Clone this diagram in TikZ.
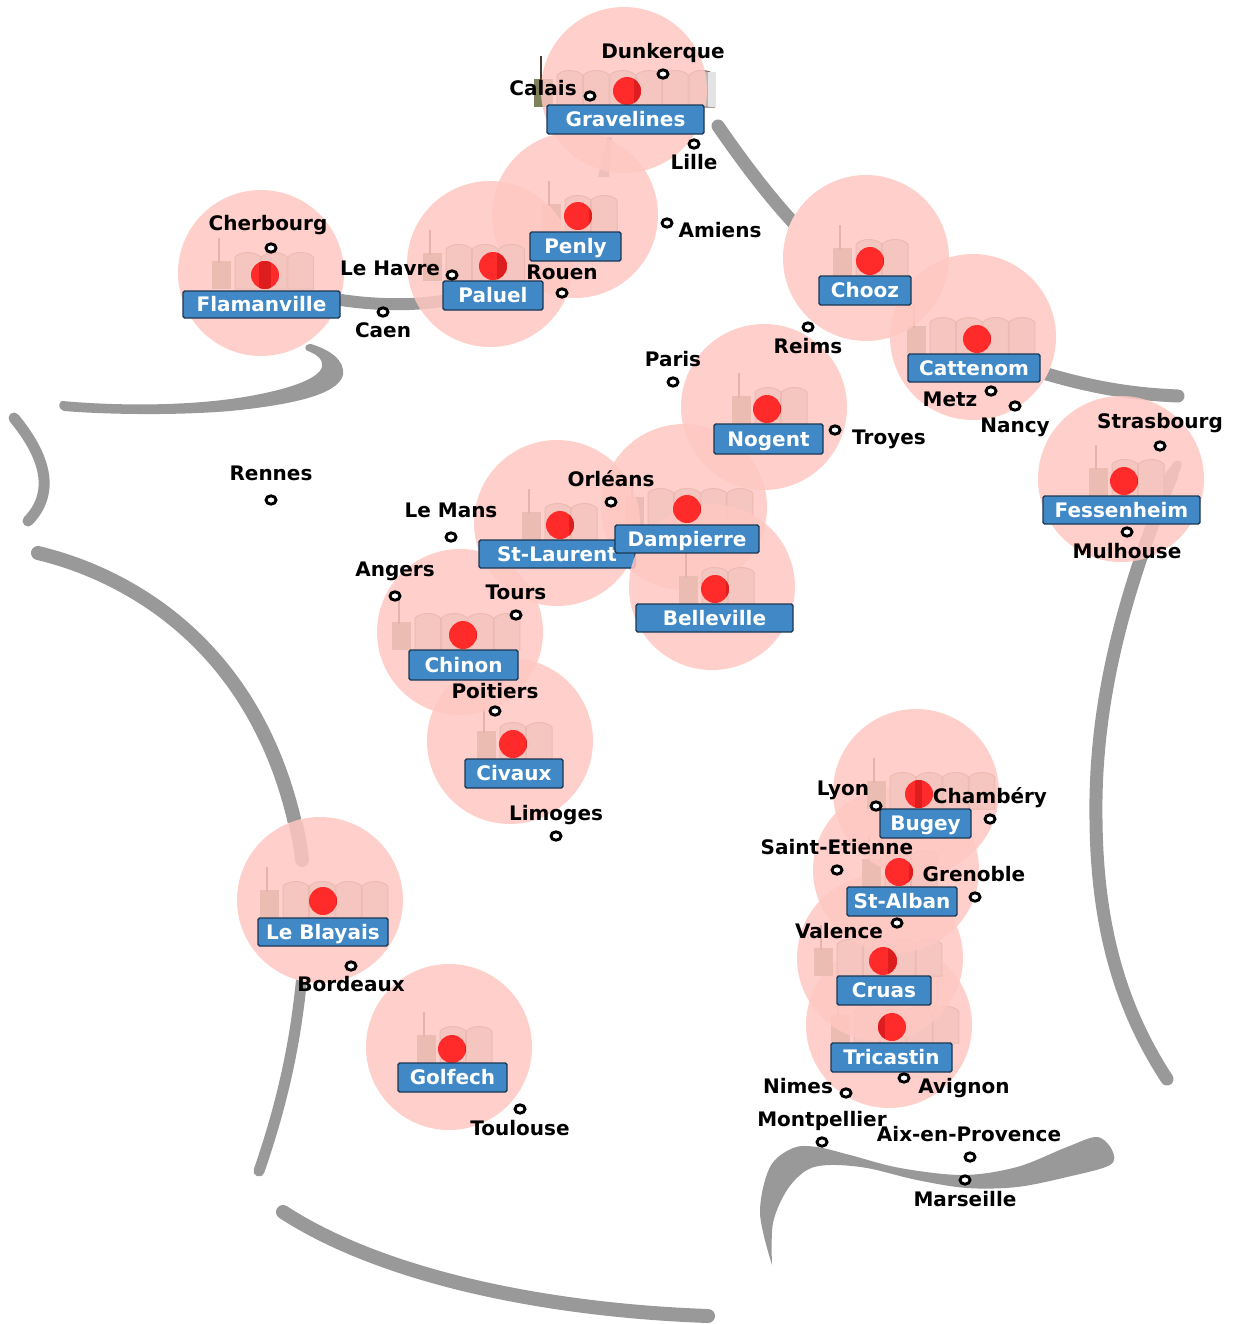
\documentclass[tikz,border=0pt]{standalone}
\usepackage{fontspec}
\setmainfont{DejaVu Sans}[BoldFont={DejaVu Sans Bold}]
\usetikzlibrary{shapes.geometric}
\definecolor{coast}{RGB}{153,153,153}
\definecolor{halo}{RGB}{255,200,194}
\definecolor{towerc}{RGB}{190,185,175}
\definecolor{towerl}{RGB}{120,110,100}
\definecolor{blockc}{RGB}{125,130,90}
\definecolor{stackc}{RGB}{70,60,50}
\definecolor{labelc}{RGB}{64,137,198}
\definecolor{labeld}{RGB}{28,56,84}
\definecolor{corec}{RGB}{255,42,42}
\definecolor{cored}{RGB}{222,30,30}
\tikzset{
  coastline/.style={draw=coast,line cap=round,line join=round,line width=6.5pt},
  coastfill/.style={fill=coast,draw=none},
  haloc/.style={fill=halo,fill opacity=.85,draw=none},
  tower/.style={fill=towerc,draw=towerl,line width=.5pt},
  block/.style={fill=blockc,draw=none},
  stackl/.style={draw=stackc,line width=1.1pt},
  core/.style={fill=corec,draw=none},
  plantlabel/.style={fill=labelc,draw=labeld,line width=.7pt,rounded corners=.8pt,text=white,
    font=\fontsize{10}{10}\selectfont\bfseries,inner sep=0pt,text height=7.3pt,text depth=0pt,align=center},
  townname/.style={text=black,font=\fontsize{10}{10}\selectfont\bfseries,inner sep=0pt,text height=7.3pt,text depth=0pt},
  townmark/.style={ellipse,draw=black,fill=white,line width=1.45pt,inner sep=0pt,minimum width=5pt,minimum height=4.2pt},
}
\newcommand{\plantart}[5]{%
  \fill[block] ({#3-23},{#4}) rectangle ({#3-4},{#4-28});
  \draw[stackl] ({#3-16},{#4-26}) -- ({#3-16},{#4-51});
  \foreach \tw in {1,...,#5}{%
    \pgfmathsetmacro{\txa}{#3+(\tw-1)*26.4}%
    \pgfmathsetmacro{\txb}{\txa+25.6}%
    \draw[tower] (\txa,{#4}) -- (\txa,{#4-32}) .. controls ({\txa+6},{#4-38}) and ({\txb-6},{#4-38}) .. (\txb,{#4-32}) -- (\txb,{#4}) -- cycle;
  }
  \fill[haloc] (#1,#2) circle (41.5pt);
}
% core: centre, then the offsets of the darker band across it
\newcommand{\plantcore}[4]{%
  \fill[core] (#1,#2) circle (7pt);
  \begin{scope}
    \clip (#1,#2) circle (7pt);
    \fill[cored] ({#1+#3},{#2-15}) rectangle ({#1+#4},{#2+15});
  \end{scope}
}
\newcommand{\plantname}[6]{%
  \node[plantlabel,minimum width={(#4-#3)*.5pt},minimum height={(#6-#5)*.5pt}] (#2) at ({(#3+#4)/2},{(#5+#6)/2}) {#1};
}
\newcommand{\town}[6]{%
  \node[townmark] (m#1) at (#5,#6) {};
  \node[townname] (t#1) at (#3,#4) {#2};
}
\begin{document}
\begin{tikzpicture}[x=.5pt,y=-.5pt]
\useasboundingbox (0,0) rectangle (1234,1324);
\fill[white] (0,0) rectangle (1234,1324);
% coast
\draw[coastline] (718,126) .. controls (745,165) and (775,205) .. (808,238);
\draw[coastline] (1040,372) .. controls (1090,387) and (1130,394) .. (1178,396);
\draw[coastline] (1172,475) .. controls (1125,590) and (1094,700) .. (1096,820) .. controls (1097,930) and (1122,1010) .. (1167,1079);
\fill[coastfill] (1174,462) .. controls (1180,458) and (1184,462) .. (1180,470) -- (1165,500) -- (1150,495) -- cycle;
\draw[coastline,line width=6pt] (335,299) .. controls (370,305) and (410,306) .. (442,301);
\fill[coastfill] (62,401) .. controls (130,407) and (200,405) .. (250,396) .. controls (300,387) and (325,375) .. (322,363) .. controls (320,355) and (312,353) .. (306,350) .. controls (304,346) and (307,344) .. (311,344) .. controls (330,350) and (345,360) .. (343,375) .. controls (338,395) and (290,405) .. (230,411) .. controls (170,416) and (100,414) .. (64,411) .. controls (58,409) and (58,403) .. (62,401) -- cycle;
\draw[coastline,line width=5.5pt] (14,418) .. controls (42,452) and (58,490) .. (28,521);
\draw[coastline,line width=7pt] (38,553) .. controls (130,575) and (270,650) .. (302,860);
\draw[coastline,line width=5.5pt] (302,975) .. controls (295,1050) and (280,1110) .. (259,1171);
\draw[coastline,line width=7pt] (283,1212) .. controls (380,1275) and (540,1310) .. (708,1316);
\fill[coastfill] (607,137) -- (612,137) -- (609,177) -- (598,177) -- cycle;
\fill[coastfill] plot[smooth,tension=.55] coordinates {(772,1265) (760,1213) (770,1167) (793,1148) (817,1147) (850,1155) (900,1168) (963,1175) (1017,1167) (1067,1147) (1097,1137) (1112,1150) (1110,1165) (1067,1177) (1017,1187) (967,1188) (917,1180) (867,1168) (830,1165) (807,1170) (787,1190) (773,1223) (772,1265)};
% the coast does not show through these discs
\fill[white] (866,258) circle (41.5pt);
\fill[white] (973,337) circle (41.5pt);
\fill[white] (320,900) circle (41.5pt);
% plant art
\plantart{889}{1025}{854}{1043}{4}
\plantart{880}{958}{837}{976}{4}
\plantart{896}{870}{885}{887}{2}
\plantart{916}{792}{890}{809}{4}
\plantart{449}{1047}{440}{1063}{2}
\draw[coastline,line width=7pt] (296,825) .. controls (299,838) and (301,849) .. (302,860);
\plantart{320}{900}{283}{918}{4}
\plantart{684}{507}{648}{525}{4}
\plantart{764}{407}{755}{424}{2}
\plantart{510}{741}{500}{759}{2}
\plantart{460}{632}{415}{650}{4}
\plantart{557}{523}{545}{540}{2}
\plantart{973}{337}{930}{354}{4}
\plantart{866}{258}{856}{276}{2}
\plantart{1121}{479}{1112}{496}{2}
\plantart{575}{215}{565}{232}{2}
\plantart{490}{264}{446}{281}{3}
\plantart{261}{273}{235}{289}{3}
\plantart{624}{90}{557}{107}{6}
\fill[gray!22] (707.5,72) rectangle (715.5,107);
% labels and cores
\plantcore{560}{525}{9}{15}\plantname{St-Laurent}{stlaurent}{479}{635}{540}{568}
\plantart{712}{587}{702}{604}{2}
\plantcore{715}{589}{11}{15}\plantname{Belleville}{belleville}{636}{793}{604}{632}
\plantcore{892}{1027}{-15}{-7}\plantname{Tricastin}{tricastin}{831}{952}{1043}{1072}
\plantcore{883}{961}{5}{15}\plantname{Cruas}{cruas}{837}{931}{976}{1005}
\plantcore{899}{872}{10}{15}\plantname{St-Alban}{stalban}{847}{957}{887}{916}
\plantcore{919}{794}{-4}{3}\plantname{Bugey}{bugey}{880}{971}{809}{838}
\plantcore{452}{1049}{13}{15}\plantname{Golfech}{golfech}{398}{507}{1063}{1092}
\plantcore{323}{901}{13}{15}\plantname{Le Blayais}{blayais}{258}{388}{918}{946}
\plantcore{767}{409}{13}{15}\plantname{Nogent}{nogent}{714}{823}{424}{454}
\plantcore{513}{744}{13}{15}\plantname{Civaux}{civaux}{465}{563}{759}{788}
\plantcore{463}{635}{13}{15}\plantname{Chinon}{chinon}{409}{518}{650}{680}
\plantcore{687}{509}{13}{15}\plantname{Dampierre}{dampierre}{615}{759}{525}{553}
\plantcore{977}{339}{13}{15}\plantname{Cattenom}{cattenom}{908}{1040}{354}{382}
\plantcore{870}{261}{13}{15}\plantname{Chooz}{chooz}{819}{911}{276}{305}
\plantcore{1124}{481}{13}{15}\plantname{Fessenheim}{fessenheim}{1043}{1200}{496}{524}
\plantcore{578}{216}{11}{15}\plantname{Penly}{penly}{530}{621}{232}{261}
\plantcore{493}{266}{4}{15}\plantname{Paluel}{paluel}{443}{543}{281}{310}
\plantcore{265}{275}{-6}{6}\plantname{Flamanville}{flamanville}{183}{340}{291}{318}
\plantcore{627}{91}{7}{15}\plantname{Gravelines}{gravelines}{547}{704}{105}{134}
% towns
\town{a}{Dunkerque}{663}{51}{663}{74}
\town{b}{Calais}{543}{88}{590}{96}
\town{c}{Lille}{694}{162}{694}{144}
\town{d}{Amiens}{720}{230}{667}{223}
\town{e}{Cherbourg}{268}{223}{271}{248}
\town{f}{Le Havre}{390}{268}{452}{275}
\town{g}{Rouen}{562}{272}{562}{293}
\town{h}{Caen}{383}{330}{383}{312}
\town{i}{Reims}{808}{346}{808}{327}
\town{j}{Paris}{673}{359}{673}{382}
\town{k}{Metz}{950}{399}{991}{391}
\town{l}{Nancy}{1015}{425}{1015}{406}
\town{m}{Troyes}{889}{437}{835}{430}
\town{n}{Strasbourg}{1160}{421}{1160}{446}
\town{o}{Mulhouse}{1127}{551}{1127}{532}
\town{p}{Orléans}{611}{479}{611}{502}
\town{q}{Le Mans}{451}{510}{451}{537}
\town{r}{Rennes}{271}{473}{271}{500}
\town{s}{Angers}{395}{569}{395}{596}
\town{t}{Tours}{516}{592}{516}{615}
\town{u}{Poitiers}{495}{691}{495}{711}
\town{v}{Limoges}{556}{813}{556}{836}
\town{w}{Lyon}{843}{788}{876}{806}
\town{x}{Chambéry}{990}{796}{990}{819}
\town{y}{Saint-Etienne}{837}{847}{837}{870}
\town{z}{Grenoble}{974}{874}{975}{897}
\town{aa}{Valence}{839}{931}{897}{923}
\town{ab}{Bordeaux}{351}{984}{351}{966}
\town{ac}{Toulouse}{520}{1128}{520}{1109}
\town{ad}{Nimes}{798}{1086}{846}{1093}
\town{ae}{Avignon}{964}{1086}{904}{1078}
\town{af}{Montpellier}{822}{1119}{822}{1142}
\town{ag}{Aix-en-Provence}{969}{1134}{970}{1157}
\town{ah}{Marseille}{965}{1199}{965}{1180}
\end{tikzpicture}
\end{document}
